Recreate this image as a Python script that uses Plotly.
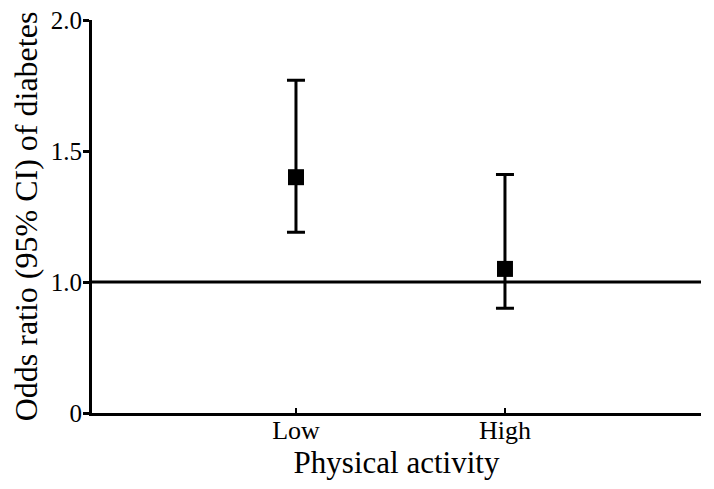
import plotly.graph_objects as go

categories = ["Low", "High"]
odds_ratio = [1.40, 1.05]
ci_lower = [1.19, 0.90]
ci_upper = [1.77, 1.41]
ytick_vals = [0.5, 1.0, 1.5, 2.0]
ytick_text = ["0", "1.0", "1.5", "2.0"]

xpos = list(range(1, len(categories) + 1))
err_plus = [u - o for u, o in zip(ci_upper, odds_ratio)]
err_minus = [o - l for o, l in zip(odds_ratio, ci_lower)]

font = "Liberation Serif"

fig = go.Figure()
fig.add_shape(type="line", xref="paper", yref="y", x0=0, x1=1, y0=1.0, y1=1.0,
              line=dict(color="black", width=3), layer="below")
fig.add_trace(go.Scatter(
    x=xpos, y=odds_ratio, mode="markers",
    marker=dict(symbol="square", size=16, color="black"),
    error_y=dict(type="data", symmetric=False, array=err_plus, arrayminus=err_minus,
                 color="black", thickness=3, width=9),
    showlegend=False,
))

# page body has an 8px margin; figure sized to fit inside the 714x489 window
fig.update_layout(
    width=698, height=473,
    margin=dict(l=84, r=5, t=12, b=68),
    paper_bgcolor="white", plot_bgcolor="white",
    font=dict(family=font, color="black"),
    xaxis=dict(range=[0.024, 2.938], tickvals=xpos, ticktext=categories, automargin=False,
               showgrid=False, zeroline=False, showline=True, linecolor="black", linewidth=3,
               ticks="inside", ticklen=5, tickwidth=2, tickcolor="black",
               ticklabelstandoff=-8, ticklabeloverflow="allow",
               tickfont=dict(size=26, family=font),
               title=dict(text="Physical activity", font=dict(size=31, family=font), standoff=0)),
    yaxis=dict(range=[0.5, 2.0], tickvals=ytick_vals, ticktext=ytick_text, automargin=False,
               showgrid=False, zeroline=False, showline=True, linecolor="black", linewidth=3,
               ticks="outside", ticklen=6, tickwidth=3, tickcolor="black",
               ticklabelstandoff=-4, ticklabeloverflow="allow",
               tickfont=dict(size=25, family=font),
               title=dict(text="Odds ratio (95% CI) of diabetes", font=dict(size=32, family=font), standoff=4)),
)

fig.write_html("out.html")
